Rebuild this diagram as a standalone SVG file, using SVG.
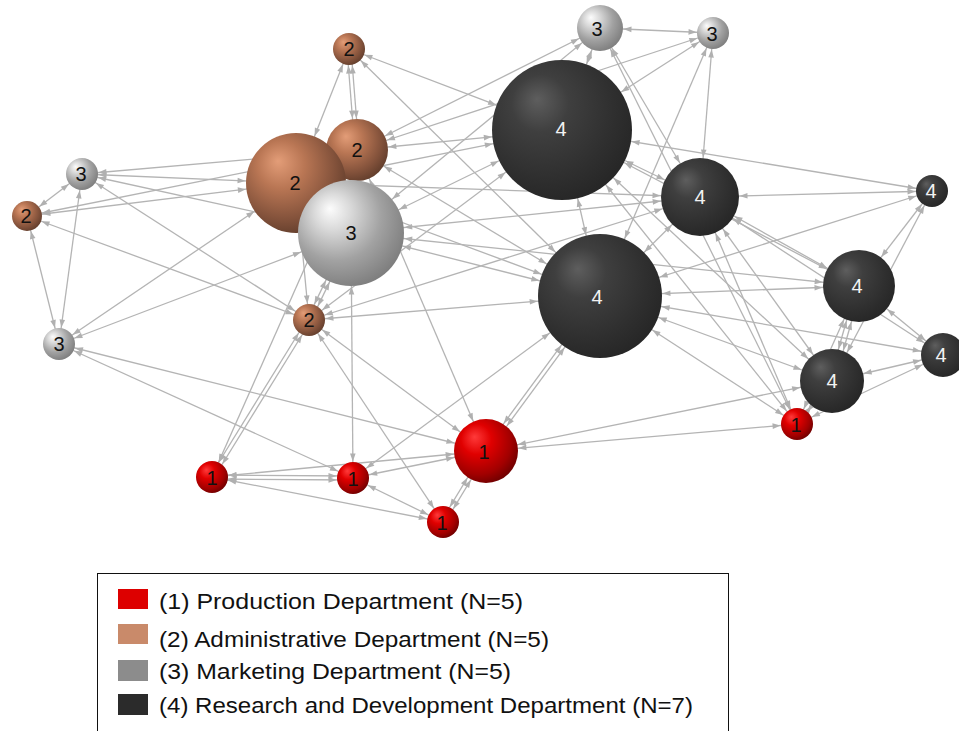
<svg xmlns="http://www.w3.org/2000/svg" width="959" height="731" viewBox="0 0 959 731">
<style>
.e{stroke:#b4b4b4;stroke-width:1.3;fill:none}
.lb{font-family:"Liberation Sans",Arial,sans-serif;font-size:20px;text-anchor:middle}
.dk{fill:#111}
.wt{fill:#f2f2f2}
.lg{font-family:"Liberation Sans",Arial,sans-serif;font-size:22px;fill:#111}
</style>
<defs>
<radialGradient id="gRed" cx="0.4" cy="0.38" r="0.68" fx="0.32" fy="0.28">
<stop offset="0" stop-color="#ff3a3a"/><stop offset="0.35" stop-color="#e00000"/><stop offset="0.75" stop-color="#a20000"/><stop offset="1" stop-color="#680000"/>
</radialGradient>
<radialGradient id="gBr" cx="0.4" cy="0.38" r="0.68" fx="0.32" fy="0.28">
<stop offset="0" stop-color="#e39d78"/><stop offset="0.35" stop-color="#b97654"/><stop offset="0.75" stop-color="#83523b"/><stop offset="1" stop-color="#5e3b2a"/>
</radialGradient>
<radialGradient id="gSi" cx="0.4" cy="0.38" r="0.68" fx="0.3" fy="0.27">
<stop offset="0" stop-color="#fcfcfc"/><stop offset="0.25" stop-color="#dadada"/><stop offset="0.62" stop-color="#a2a2a2"/><stop offset="1" stop-color="#7a7a7a"/>
</radialGradient>
<radialGradient id="gDk" cx="0.4" cy="0.38" r="0.68" fx="0.32" fy="0.28">
<stop offset="0" stop-color="#5e5e5e"/><stop offset="0.3" stop-color="#3f3f3f"/><stop offset="0.72" stop-color="#2f2f2f"/><stop offset="1" stop-color="#252525"/>
</radialGradient>
<marker id="m15" markerUnits="userSpaceOnUse" orient="auto-start-reverse" markerWidth="1" markerHeight="1" overflow="visible"><path d="M-15.5,0 L-23.5,-2.8 L-23.5,2.8 Z" fill="#b0b0b0"/></marker>
<marker id="m16" markerUnits="userSpaceOnUse" orient="auto-start-reverse" markerWidth="1" markerHeight="1" overflow="visible"><path d="M-16.5,0 L-24.5,-2.8 L-24.5,2.8 Z" fill="#b0b0b0"/></marker>
<marker id="m22" markerUnits="userSpaceOnUse" orient="auto-start-reverse" markerWidth="1" markerHeight="1" overflow="visible"><path d="M-22.5,0 L-30.5,-2.8 L-30.5,2.8 Z" fill="#b0b0b0"/></marker>
<marker id="m23" markerUnits="userSpaceOnUse" orient="auto-start-reverse" markerWidth="1" markerHeight="1" overflow="visible"><path d="M-23.5,0 L-31.5,-2.8 L-31.5,2.8 Z" fill="#b0b0b0"/></marker>
<marker id="m31" markerUnits="userSpaceOnUse" orient="auto-start-reverse" markerWidth="1" markerHeight="1" overflow="visible"><path d="M-31.5,0 L-39.5,-2.8 L-39.5,2.8 Z" fill="#b0b0b0"/></marker>
<marker id="m32" markerUnits="userSpaceOnUse" orient="auto-start-reverse" markerWidth="1" markerHeight="1" overflow="visible"><path d="M-32.5,0 L-40.5,-2.8 L-40.5,2.8 Z" fill="#b0b0b0"/></marker>
<marker id="m36" markerUnits="userSpaceOnUse" orient="auto-start-reverse" markerWidth="1" markerHeight="1" overflow="visible"><path d="M-36.5,0 L-44.5,-2.8 L-44.5,2.8 Z" fill="#b0b0b0"/></marker>
<marker id="m39" markerUnits="userSpaceOnUse" orient="auto-start-reverse" markerWidth="1" markerHeight="1" overflow="visible"><path d="M-39.5,0 L-47.5,-2.8 L-47.5,2.8 Z" fill="#b0b0b0"/></marker>
<marker id="m50" markerUnits="userSpaceOnUse" orient="auto-start-reverse" markerWidth="1" markerHeight="1" overflow="visible"><path d="M-50.5,0 L-58.5,-2.8 L-58.5,2.8 Z" fill="#b0b0b0"/></marker>
<marker id="m53" markerUnits="userSpaceOnUse" orient="auto-start-reverse" markerWidth="1" markerHeight="1" overflow="visible"><path d="M-53.5,0 L-61.5,-2.8 L-61.5,2.8 Z" fill="#b0b0b0"/></marker>
<marker id="m62" markerUnits="userSpaceOnUse" orient="auto-start-reverse" markerWidth="1" markerHeight="1" overflow="visible"><path d="M-62.5,0 L-70.5,-2.8 L-70.5,2.8 Z" fill="#b0b0b0"/></marker>
<marker id="m70" markerUnits="userSpaceOnUse" orient="auto-start-reverse" markerWidth="1" markerHeight="1" overflow="visible"><path d="M-70.5,0 L-78.5,-2.8 L-78.5,2.8 Z" fill="#b0b0b0"/></marker>
</defs>
<rect width="959" height="731" fill="#ffffff"/>
<g id="connectors">
<line class="e" x1="349" y1="49" x2="296" y2="183" marker-start="url(#m16)" marker-end="url(#m50)"/>
<line class="e" x1="349" y1="49" x2="562" y2="130" marker-start="url(#m16)" marker-end="url(#m70)"/>
<line class="e" x1="349" y1="49" x2="600" y2="296" marker-start="url(#m16)" marker-end="url(#m62)"/>
<line class="e" x1="82" y1="174" x2="27" y2="216" marker-start="url(#m16)" marker-end="url(#m15)"/>
<line class="e" x1="82" y1="174" x2="59" y2="344" marker-start="url(#m16)" marker-end="url(#m16)"/>
<line class="e" x1="27" y1="216" x2="59" y2="344" marker-start="url(#m15)" marker-end="url(#m16)"/>
<line class="e" x1="82" y1="174" x2="357" y2="150" marker-start="url(#m16)" marker-end="url(#m31)"/>
<line class="e" x1="82" y1="174" x2="296" y2="183" marker-start="url(#m16)" marker-end="url(#m50)"/>
<line class="e" x1="27" y1="216" x2="296" y2="183" marker-start="url(#m15)" marker-end="url(#m50)"/>
<line class="e" x1="27" y1="216" x2="357" y2="150" marker-start="url(#m15)" marker-end="url(#m31)"/>
<line class="e" x1="82" y1="174" x2="351" y2="233" marker-start="url(#m16)" marker-end="url(#m53)"/>
<line class="e" x1="82" y1="174" x2="309" y2="320" marker-start="url(#m16)" marker-end="url(#m16)"/>
<line class="e" x1="27" y1="216" x2="309" y2="320" marker-start="url(#m15)" marker-end="url(#m16)"/>
<line class="e" x1="296" y1="183" x2="59" y2="344" marker-start="url(#m50)" marker-end="url(#m16)"/>
<line class="e" x1="351" y1="233" x2="59" y2="344" marker-start="url(#m53)" marker-end="url(#m16)"/>
<line class="e" x1="59" y1="344" x2="486" y2="451" marker-start="url(#m16)" marker-end="url(#m32)"/>
<line class="e" x1="59" y1="344" x2="353" y2="478" marker-start="url(#m16)" marker-end="url(#m16)"/>
<line class="e" x1="357" y1="150" x2="600" y2="28" marker-start="url(#m31)" marker-end="url(#m23)"/>
<line class="e" x1="357" y1="150" x2="713" y2="33" marker-start="url(#m31)" marker-end="url(#m16)"/>
<line class="e" x1="357" y1="150" x2="562" y2="130" marker-start="url(#m31)" marker-end="url(#m70)"/>
<line class="e" x1="296" y1="183" x2="562" y2="130" marker-start="url(#m50)" marker-end="url(#m70)"/>
<line class="e" x1="357" y1="150" x2="600" y2="296" marker-start="url(#m31)" marker-end="url(#m62)"/>
<line class="e" x1="357" y1="150" x2="212" y2="477" marker-start="url(#m31)" marker-end="url(#m16)"/>
<line class="e" x1="357" y1="150" x2="486" y2="451" marker-start="url(#m31)" marker-end="url(#m32)"/>
<line class="e" x1="351" y1="233" x2="600" y2="28" marker-start="url(#m53)" marker-end="url(#m23)"/>
<line class="e" x1="351" y1="233" x2="562" y2="130" marker-start="url(#m53)" marker-end="url(#m70)"/>
<line class="e" x1="351" y1="233" x2="700" y2="197" marker-start="url(#m53)" marker-end="url(#m39)"/>
<line class="e" x1="351" y1="233" x2="859" y2="286" marker-start="url(#m53)" marker-end="url(#m36)"/>
<line class="e" x1="296" y1="183" x2="700" y2="197" marker-start="url(#m50)" marker-end="url(#m39)"/>
<line class="e" x1="296" y1="183" x2="600" y2="296" marker-start="url(#m50)" marker-end="url(#m62)"/>
<line class="e" x1="296" y1="183" x2="309" y2="320" marker-start="url(#m50)" marker-end="url(#m16)"/>
<line class="e" x1="600" y1="28" x2="713" y2="33" marker-start="url(#m23)" marker-end="url(#m16)"/>
<line class="e" x1="600" y1="28" x2="562" y2="130" marker-start="url(#m23)" marker-end="url(#m70)"/>
<line class="e" x1="600" y1="28" x2="700" y2="197" marker-start="url(#m23)" marker-end="url(#m39)"/>
<line class="e" x1="600" y1="28" x2="797" y2="424" marker-start="url(#m23)" marker-end="url(#m16)"/>
<line class="e" x1="713" y1="33" x2="700" y2="197" marker-start="url(#m16)" marker-end="url(#m39)"/>
<line class="e" x1="713" y1="33" x2="600" y2="296" marker-start="url(#m16)" marker-end="url(#m62)"/>
<line class="e" x1="713" y1="33" x2="562" y2="130" marker-start="url(#m16)" marker-end="url(#m70)"/>
<line class="e" x1="562" y1="130" x2="700" y2="197" marker-start="url(#m70)" marker-end="url(#m39)"/>
<line class="e" x1="562" y1="130" x2="932" y2="191" marker-start="url(#m70)" marker-end="url(#m16)"/>
<line class="e" x1="562" y1="130" x2="600" y2="296" marker-start="url(#m70)" marker-end="url(#m62)"/>
<line class="e" x1="562" y1="130" x2="859" y2="286" marker-start="url(#m70)" marker-end="url(#m36)"/>
<line class="e" x1="562" y1="130" x2="832" y2="381" marker-start="url(#m70)" marker-end="url(#m32)"/>
<line class="e" x1="562" y1="130" x2="797" y2="424" marker-start="url(#m70)" marker-end="url(#m16)"/>
<line class="e" x1="700" y1="197" x2="932" y2="191" marker-start="url(#m39)" marker-end="url(#m16)"/>
<line class="e" x1="700" y1="197" x2="600" y2="296" marker-start="url(#m39)" marker-end="url(#m62)"/>
<line class="e" x1="700" y1="197" x2="859" y2="286" marker-start="url(#m39)" marker-end="url(#m36)"/>
<line class="e" x1="700" y1="197" x2="943" y2="355" marker-start="url(#m39)" marker-end="url(#m22)"/>
<line class="e" x1="700" y1="197" x2="832" y2="381" marker-start="url(#m39)" marker-end="url(#m32)"/>
<line class="e" x1="700" y1="197" x2="797" y2="424" marker-start="url(#m39)" marker-end="url(#m16)"/>
<line class="e" x1="932" y1="191" x2="600" y2="296" marker-start="url(#m16)" marker-end="url(#m62)"/>
<line class="e" x1="932" y1="191" x2="859" y2="286" marker-start="url(#m16)" marker-end="url(#m36)"/>
<line class="e" x1="932" y1="191" x2="832" y2="381" marker-start="url(#m16)" marker-end="url(#m32)"/>
<line class="e" x1="600" y1="296" x2="859" y2="286" marker-start="url(#m62)" marker-end="url(#m36)"/>
<line class="e" x1="600" y1="296" x2="943" y2="355" marker-start="url(#m62)" marker-end="url(#m22)"/>
<line class="e" x1="600" y1="296" x2="832" y2="381" marker-start="url(#m62)" marker-end="url(#m32)"/>
<line class="e" x1="600" y1="296" x2="797" y2="424" marker-start="url(#m62)" marker-end="url(#m16)"/>
<line class="e" x1="859" y1="286" x2="943" y2="355" marker-start="url(#m36)" marker-end="url(#m22)"/>
<line class="e" x1="832" y1="381" x2="943" y2="355" marker-start="url(#m32)" marker-end="url(#m22)"/>
<line class="e" x1="797" y1="424" x2="943" y2="355" marker-start="url(#m16)" marker-end="url(#m22)"/>
<line class="e" x1="797" y1="424" x2="832" y2="381" marker-start="url(#m16)" marker-end="url(#m32)"/>
<line class="e" x1="797" y1="424" x2="859" y2="286" marker-start="url(#m16)" marker-end="url(#m36)"/>
<line class="e" x1="309" y1="320" x2="562" y2="130" marker-start="url(#m16)" marker-end="url(#m70)"/>
<line class="e" x1="309" y1="320" x2="700" y2="197" marker-start="url(#m16)" marker-end="url(#m39)"/>
<line class="e" x1="309" y1="320" x2="600" y2="296" marker-start="url(#m16)" marker-end="url(#m62)"/>
<line class="e" x1="309" y1="320" x2="443" y2="522" marker-start="url(#m16)" marker-end="url(#m16)"/>
<line class="e" x1="309" y1="320" x2="486" y2="451" marker-start="url(#m16)" marker-end="url(#m32)"/>
<line class="e" x1="351" y1="233" x2="353" y2="478" marker-start="url(#m53)" marker-end="url(#m16)"/>
<line class="e" x1="353" y1="478" x2="600" y2="296" marker-start="url(#m16)" marker-end="url(#m62)"/>
<line class="e" x1="353" y1="478" x2="486" y2="451" marker-start="url(#m16)" marker-end="url(#m32)"/>
<line class="e" x1="353" y1="478" x2="443" y2="522" marker-start="url(#m16)" marker-end="url(#m16)"/>
<line class="e" x1="212" y1="477" x2="486" y2="451" marker-start="url(#m16)" marker-end="url(#m32)"/>
<line class="e" x1="212" y1="477" x2="443" y2="522" marker-start="url(#m16)" marker-end="url(#m16)"/>
<line class="e" x1="486" y1="451" x2="797" y2="424" marker-start="url(#m32)" marker-end="url(#m16)"/>
<line class="e" x1="486" y1="451" x2="832" y2="381" marker-start="url(#m32)" marker-end="url(#m32)"/>
<line class="e" x1="351" y1="233" x2="600" y2="296" marker-start="url(#m53)" marker-end="url(#m62)"/>
<line class="e" x1="347" y1="49" x2="355" y2="150" marker-start="url(#m16)" marker-end="url(#m31)"/>
<line class="e" x1="351" y1="49" x2="359" y2="150" marker-start="url(#m16)" marker-end="url(#m31)"/>
<line class="e" x1="352.8" y1="233.9" x2="310.8" y2="320.9" marker-start="url(#m53)" marker-end="url(#m16)"/>
<line class="e" x1="349.2" y1="232.1" x2="307.2" y2="319.1" marker-start="url(#m53)" marker-end="url(#m16)"/>
<line class="e" x1="310.7" y1="321" x2="213.7" y2="478" marker-start="url(#m16)" marker-end="url(#m16)"/>
<line class="e" x1="307.3" y1="319" x2="210.3" y2="476" marker-start="url(#m16)" marker-end="url(#m16)"/>
<line class="e" x1="212" y1="475" x2="353" y2="476" marker-start="url(#m16)" marker-end="url(#m16)"/>
<line class="e" x1="212" y1="479" x2="353" y2="480" marker-start="url(#m16)" marker-end="url(#m16)"/>
<line class="e" x1="444.7" y1="523" x2="487.7" y2="452" marker-start="url(#m16)" marker-end="url(#m32)"/>
<line class="e" x1="441.3" y1="521" x2="484.3" y2="450" marker-start="url(#m16)" marker-end="url(#m32)"/>
<line class="e" x1="487.6" y1="452.2" x2="601.6" y2="297.2" marker-start="url(#m32)" marker-end="url(#m62)"/>
<line class="e" x1="484.4" y1="449.8" x2="598.4" y2="294.8" marker-start="url(#m32)" marker-end="url(#m62)"/>
<line class="e" x1="861.4" y1="286.7" x2="834.4" y2="381.7" marker-start="url(#m36)" marker-end="url(#m32)"/>
<line class="e" x1="856.6" y1="285.3" x2="829.6" y2="380.3" marker-start="url(#m36)" marker-end="url(#m32)"/>
</g>
<g id="node-A"><circle cx="349" cy="49" r="16" fill="url(#gBr)"/><text class="lb dk" x="349" y="56">2</text></g>
<g id="node-B"><circle cx="357" cy="150" r="31" fill="url(#gBr)"/><text class="lb dk" x="357" y="157">2</text></g>
<g id="node-C"><circle cx="296" cy="183" r="50" fill="url(#gBr)"/><text class="lb dk" x="295" y="190">2</text></g>
<g id="node-D"><circle cx="351" cy="233" r="53" fill="url(#gSi)"/><text class="lb dk" x="351" y="240">3</text></g>
<g id="node-E"><circle cx="82" cy="174" r="16" fill="url(#gSi)"/><text class="lb dk" x="81" y="181">3</text></g>
<g id="node-F"><circle cx="27" cy="216" r="15" fill="url(#gBr)"/><text class="lb dk" x="26" y="223">2</text></g>
<g id="node-G"><circle cx="59" cy="344" r="16" fill="url(#gSi)"/><text class="lb dk" x="59" y="351">3</text></g>
<g id="node-H"><circle cx="309" cy="320" r="16" fill="url(#gBr)"/><text class="lb dk" x="309" y="327">2</text></g>
<g id="node-I"><circle cx="212" cy="477" r="16" fill="url(#gRed)"/><text class="lb dk" x="212" y="485">1</text></g>
<g id="node-J"><circle cx="353" cy="478" r="16" fill="url(#gRed)"/><text class="lb dk" x="353" y="486">1</text></g>
<g id="node-K"><circle cx="443" cy="522" r="16" fill="url(#gRed)"/><text class="lb dk" x="442" y="530">1</text></g>
<g id="node-L"><circle cx="486" cy="451" r="32" fill="url(#gRed)"/><text class="lb dk" x="484" y="459">1</text></g>
<g id="node-M"><circle cx="600" cy="28" r="23" fill="url(#gSi)"/><text class="lb dk" x="597" y="36">3</text></g>
<g id="node-N"><circle cx="713" cy="33" r="16" fill="url(#gSi)"/><text class="lb dk" x="712" y="41">3</text></g>
<g id="node-O"><circle cx="562" cy="130" r="70" fill="url(#gDk)"/><text class="lb wt" x="561" y="136">4</text></g>
<g id="node-P"><circle cx="700" cy="197" r="39" fill="url(#gDk)"/><text class="lb wt" x="700" y="204">4</text></g>
<g id="node-Q"><circle cx="932" cy="191" r="16" fill="url(#gDk)"/><text class="lb wt" x="931" y="198">4</text></g>
<g id="node-R"><circle cx="600" cy="296" r="62" fill="url(#gDk)"/><text class="lb wt" x="597" y="304">4</text></g>
<g id="node-S"><circle cx="859" cy="286" r="36" fill="url(#gDk)"/><text class="lb wt" x="857" y="293">4</text></g>
<g id="node-T"><circle cx="943" cy="355" r="22" fill="url(#gDk)"/><text class="lb wt" x="941" y="362">4</text></g>
<g id="node-U"><circle cx="832" cy="381" r="32" fill="url(#gDk)"/><text class="lb wt" x="832" y="388">4</text></g>
<g id="node-V"><circle cx="797" cy="424" r="16" fill="url(#gRed)"/><text class="lb dk" x="796" y="432">1</text></g>
<g id="legend">
<rect x="97.5" y="573.5" width="631" height="170" fill="none" stroke="#111" stroke-width="1"/>
<rect x="118" y="589" width="30" height="20" fill="#dd0000"/>
<rect x="118" y="624" width="30" height="20" fill="#c98a6a"/>
<rect x="118" y="660" width="30" height="21" fill="#8c8c8c"/>
<rect x="118" y="694" width="30" height="21" fill="#2b2b2b"/>
<text class="lg" x="159" y="609" textLength="364" lengthAdjust="spacingAndGlyphs">(1) Production Department (N=5)</text>
<text class="lg" x="159" y="647" textLength="390" lengthAdjust="spacingAndGlyphs">(2) Administrative Department (N=5)</text>
<text class="lg" x="159" y="679" textLength="352" lengthAdjust="spacingAndGlyphs">(3) Marketing Department (N=5)</text>
<text class="lg" x="159" y="713" textLength="534" lengthAdjust="spacingAndGlyphs">(4) Research and Development Department (N=7)</text>
</g>
</svg>
